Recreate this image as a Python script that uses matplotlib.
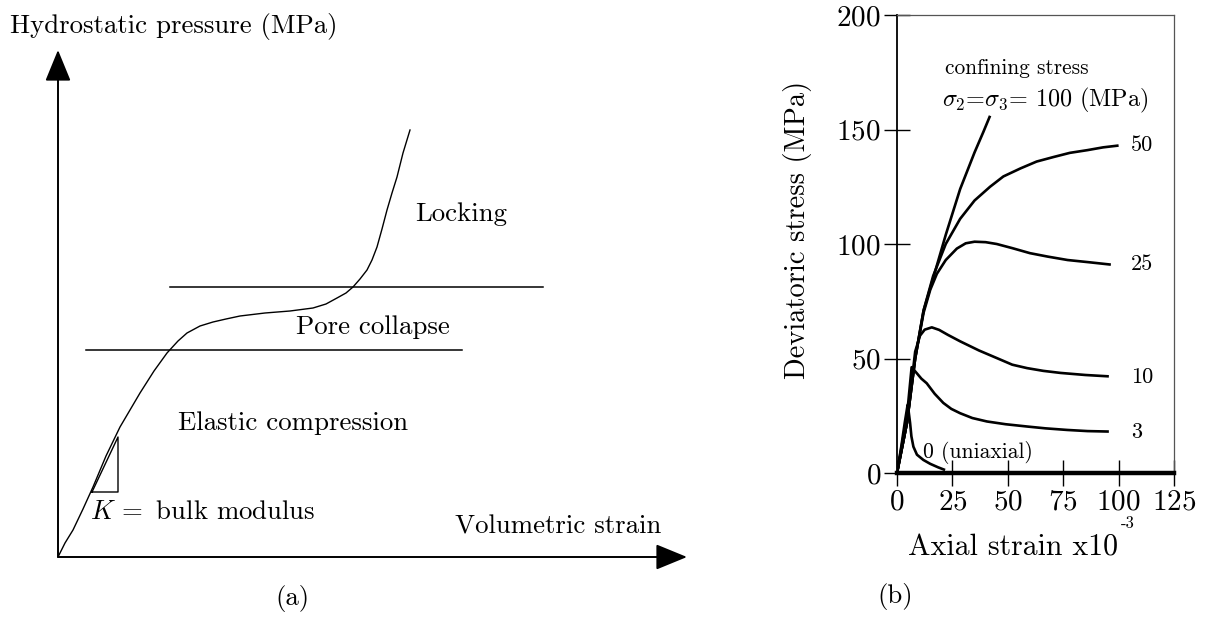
import numpy as np
import matplotlib
matplotlib.use('Agg')
import matplotlib.pyplot as plt

plt.rcParams['font.family'] = ['cmr10', 'DejaVu Serif']
plt.rcParams['mathtext.fontset'] = 'cm'
plt.rcParams['axes.unicode_minus'] = False
plt.rcParams['axes.formatter.use_mathtext'] = True

# (a) schematic hydrostatic curve, arbitrary units
vol_strain = [0, 7, 15, 25, 35, 48, 62, 82, 96, 109, 120, 129, 142, 155, 168, 182,
              207, 232, 255, 268, 279, 288, 295, 302, 309, 314, 319, 324, 329,
              334, 339, 345, 352]
pressure = [0, 14, 27, 48, 70, 101, 130, 164, 186, 204, 216, 224, 231, 235, 238, 241,
            244, 246, 249, 253, 259, 264, 270, 278, 287, 297, 310, 328, 347,
            364, 380, 404, 427]
pore_collapse_start = 207
locking_start = 270

# (b) triaxial tests, deviatoric stress vs axial strain (x1e-3)
curves = {
    '100': ([0, 4.5, 8.2, 12, 16.3, 22, 28.5, 35, 39, 42],
            [0, 22, 50, 71, 85, 104, 124, 140, 149, 156]),
    '50': ([0, 4.5, 8.2, 12, 16.3, 22, 28.5, 35, 42, 48, 55.7, 63, 70.7, 78, 86, 93, 100],
           [0, 22, 50, 71, 86, 100, 111, 119, 125, 129.5, 133, 136, 138, 139.8, 141, 142.2, 143]),
    '25': ([0, 4.5, 8.2, 12, 15, 18, 22, 27, 31, 35, 40, 45, 52, 60, 68, 77, 87, 96.5],
           [0, 22, 50, 70, 80, 87, 93, 98, 100.3, 101, 100.8, 100, 98.2, 96, 94.5, 93, 92, 91]),
    '10': ([0, 4.5, 8.2, 10.4, 12.5, 15.7, 19, 23, 28.5, 37, 46.7, 52, 58.7, 66, 73.8, 85, 95.6],
           [0, 22, 53, 60, 62.6, 63.6, 62.5, 60.3, 57.5, 53.5, 49.5, 47.3, 45.8, 44.6, 43.7, 42.8, 42.2]),
    '3': ([0, 4.5, 6.6, 9, 11, 13.4, 17, 20.9, 24.5, 28.5, 34, 40.6, 49, 58.7, 67, 76.8, 86, 95.6],
          [0, 25, 46.2, 43.5, 41.2, 39.2, 34.6, 30.6, 28, 26.1, 24, 22.5, 21.3, 20.3, 19.5, 18.8, 18.3, 18.1]),
    '0': ([0, 2, 3.5, 4.8, 5.3, 5.9, 6.5, 7.4, 9, 11.9, 15, 18.5, 21.7],
          [0, 12, 22, 29.8, 26.5, 21.9, 16, 11.5, 8, 5.7, 4, 2.5, 1.3]),
}
x_ticks = [0, 25, 50, 75, 100, 125]
y_ticks = [0, 50, 100, 150, 200]

W, H = 1206, 617
fig = plt.figure(figsize=(W / 100, H / 100), dpi=100)

# ---- (a)
ax1 = fig.add_axes([58 / W, (H - 557) / H, 632 / W, 509 / H])
ax1.set_xlim(0, 632)
ax1.set_ylim(0, 509)
ax1.axis('off')

arrow = dict(arrowstyle='-|>,head_length=1.95,head_width=0.8', lw=1.4,
             color='k', shrinkA=0, shrinkB=0, mutation_scale=10)
ax1.annotate('', xy=(0, 507), xytext=(0, 0), arrowprops=arrow)
ax1.annotate('', xy=(629, 0), xytext=(0, 0), arrowprops=arrow)

ax1.plot(vol_strain, pressure, color='k', lw=1.0)
ax1.plot([28, 404], [pore_collapse_start] * 2, color='k', lw=1.1)
ax1.plot([112, 485], [locking_start] * 2, color='k', lw=1.1)
ax1.plot([34, 60, 60, 34], [65, 65, 120, 65], color='k', lw=1.0)

fs = 19.3
fig.text(10 / W, 1 - 27 / H, 'Hydrostatic pressure (MPa)', fontsize=fs, va='center')
fig.text(415 / W, 1 - 214 / H, 'Locking', fontsize=fs, va='center')
fig.text(373 / W, 1 - 327 / H, 'Pore collapse', fontsize=fs, va='center', ha='center')
fig.text(293 / W, 1 - 423 / H, 'Elastic compression', fontsize=fs, va='center', ha='center')
fig.text(90 / W, 1 - 512 / H, r'$K\,=$ bulk modulus', fontsize=fs, va='center')
fig.text(455 / W, 1 - 527 / H, 'Volumetric strain', fontsize=fs, va='center')
fig.text(292 / W, 1 - 599 / H, '(a)', fontsize=fs, va='center', ha='center')

# ---- (b)
ax2 = fig.add_axes([897 / W, (H - 473) / H, 277 / W, 458 / H])
for name, (xs, ys) in curves.items():
    ax2.plot(xs, ys, color='k', lw=1.9, solid_capstyle='butt')
ax2.set_xlim(0, 125)
ax2.set_ylim(0, 200)
ax2.set_xticks(x_ticks)
ax2.set_yticks(y_ticks)
ax2.tick_params(direction='inout', length=19, width=1.0, labelsize=21, pad=2)
ax2.spines['left'].set_linewidth(1.3)
ax2.spines['bottom'].set_linewidth(3.2)
for s in ['top', 'right']:
    ax2.spines[s].set_linewidth(0.9)
    ax2.spines[s].set_color('#555555')

fig.text(798 / W, 1 - 230 / H, 'Deviatoric stress (MPa)', fontsize=20.5,
         rotation=90, va='center', ha='center')
fig.text(1013 / W, 1 - 548 / H, 'Axial strain x10', fontsize=21.5, va='center', ha='center')
fig.text(1128 / W, 1 - 523 / H, '-3', fontsize=12, va='center', ha='center')
fig.text(895 / W, 1 - 596 / H, '(b)', fontsize=fs, va='center', ha='center')

ax2.text(945 / W, 1 - 68 / H, 'confining stress', transform=fig.transFigure,
         fontsize=15.4, va='center')
ax2.text(942 / W, 1 - 100 / H, r'$\sigma_2$=$\sigma_3$= 100 (MPa)',
         transform=fig.transFigure, fontsize=17.4, va='center')
end_labels = {'50': 143, '25': 91, '10': 42, '3': 18}
for name, yv in end_labels.items():
    ax2.text(105.5, yv, name, fontsize=16, va='center', ha='left')
ax2.text(11.8, 8.8, '0 (uniaxial)', fontsize=15.5, va='center', ha='left')

fig.savefig('out.png', dpi=100)
